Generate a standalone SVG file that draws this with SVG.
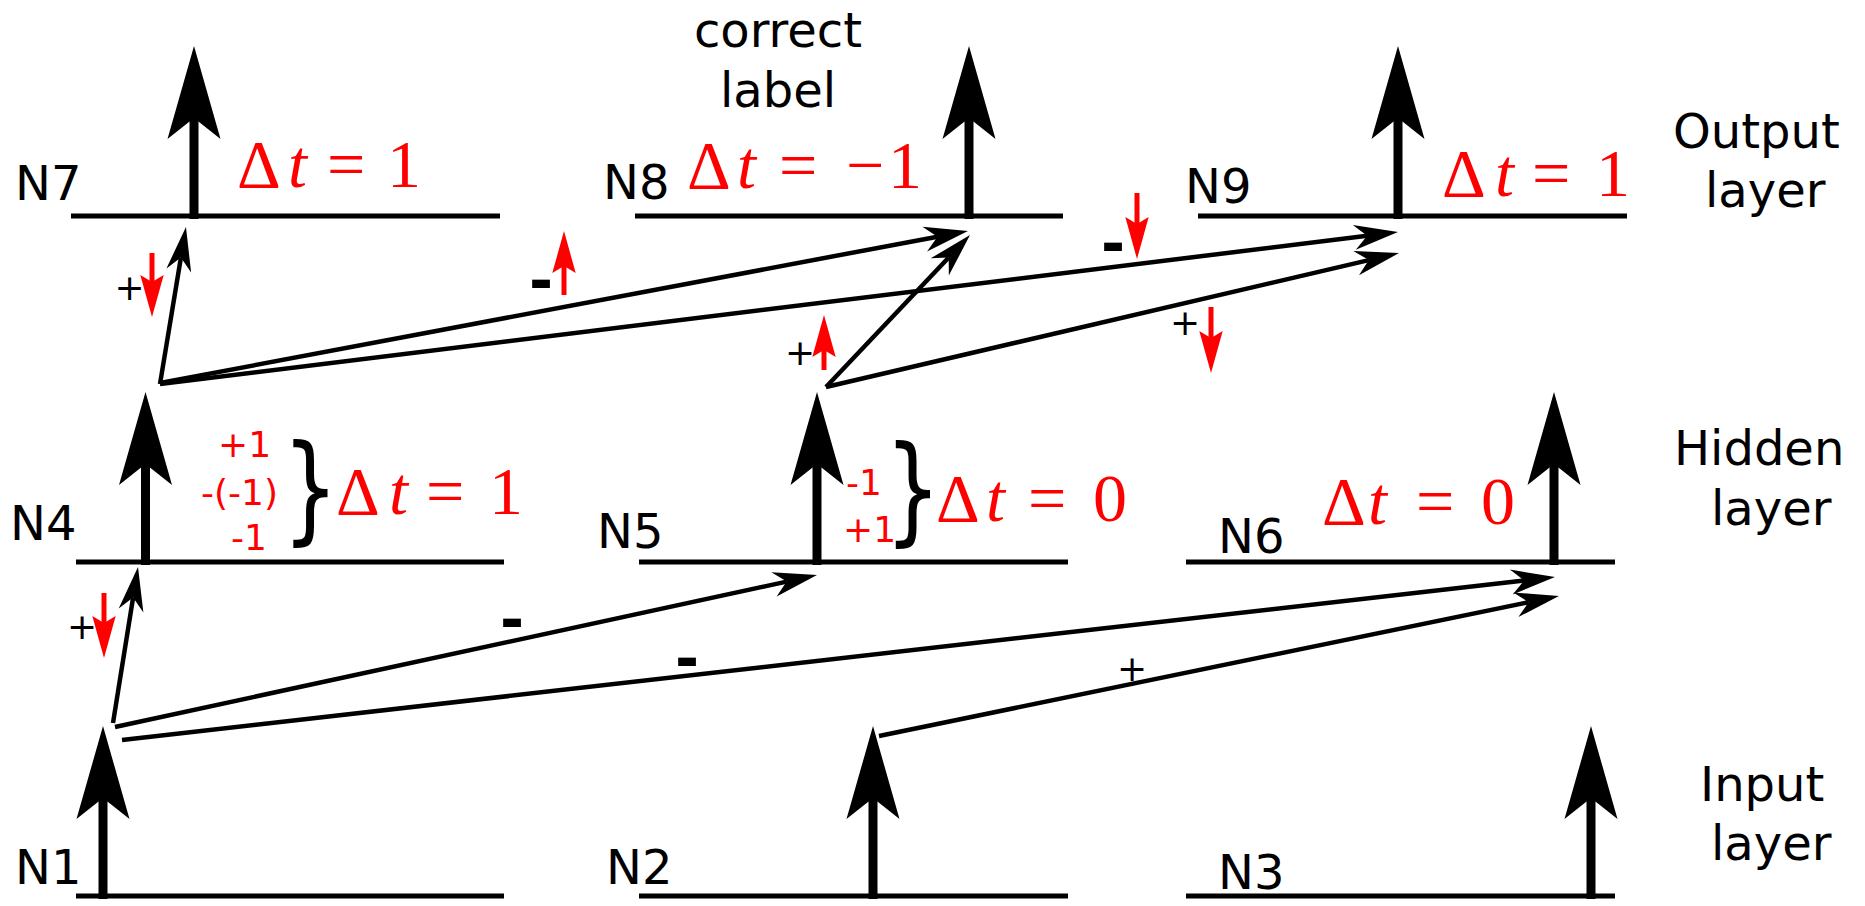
<svg xmlns="http://www.w3.org/2000/svg" width="1865" height="906" viewBox="0 0 1865 906">
<style>
.base{stroke:#000;stroke-width:5;fill:none}
.lbl{font-family:"DejaVu Sans",sans-serif;font-size:48px;fill:#000}
.dt{font-family:"Liberation Serif",serif;font-size:68px;fill:#f00}
.it{font-style:italic}
.rt{font-family:"DejaVu Sans",sans-serif;font-size:36px;fill:#f00}
.plus{font-family:"DejaVu Sans",sans-serif;font-size:36px;fill:#000;text-anchor:middle}
.minus{font-family:"DejaVu Sans",sans-serif;font-size:58px;font-weight:bold;fill:#000;text-anchor:middle}
.brace{font-family:"DejaVu Sans",sans-serif;font-size:118px;fill:#000;text-anchor:middle}
.conn{stroke:#000;stroke-width:4.5;fill:none;marker-end:url(#ah)}
.red{stroke:#f00;stroke-width:5;fill:none;marker-end:url(#rh)}
</style>
<defs>
<marker id="ah" markerUnits="userSpaceOnUse" viewBox="-15 -15 50 30" markerWidth="50" markerHeight="30" refX="0" refY="0" orient="auto" overflow="visible"><path d="M31,0 L-13,-12.5 L0,0 L-13,12.5 Z" fill="#000"/></marker>
<marker id="rh" markerUnits="userSpaceOnUse" viewBox="-10 -15 50 30" markerWidth="50" markerHeight="30" refX="0" refY="0" orient="auto" overflow="visible"><path d="M35,0 L-7,-11.7 L0,0 L-7,11.7 Z" fill="#f00"/></marker>
<g id="spike"><line x1="0" y1="3" x2="0" y2="-100" stroke="#000" stroke-width="9"/><path d="M0,-170 L26.5,-77 L0,-98 L-26.5,-77 Z" fill="#000"/></g>
</defs>
<rect width="1865" height="906" fill="#fff"/>

<g id="N7">
<line class="base" x1="71" y1="216" x2="500" y2="216"/>
<use href="#spike" x="194" y="216"/>
<text class="lbl" x="15" y="200">N7</text>
<text class="dt" y="187"><tspan x="237">Δ</tspan><tspan class="it" x="288">t</tspan><tspan x="327">=</tspan><tspan x="387">1</tspan></text>
</g>
<g id="N8">
<line class="base" x1="635" y1="216" x2="1063" y2="216"/>
<use href="#spike" x="969" y="216"/>
<text class="lbl" x="603" y="199">N8</text>
<text class="dt" y="188"><tspan x="687">Δ</tspan><tspan class="it" x="737">t</tspan><tspan x="779">=</tspan><tspan x="846">−</tspan><tspan x="888">1</tspan></text>
<text class="lbl" text-anchor="middle" x="778" y="47">correct</text>
<text class="lbl" text-anchor="middle" x="778" y="107">label</text>
</g>
<g id="N9">
<line class="base" x1="1198" y1="216" x2="1627" y2="216"/>
<use href="#spike" x="1398" y="216"/>
<text class="lbl" x="1185" y="203">N9</text>
<text class="dt" y="196"><tspan x="1442">Δ</tspan><tspan class="it" x="1495">t</tspan><tspan x="1532">=</tspan><tspan x="1596">1</tspan></text>
</g>

<g id="N4">
<line class="base" x1="76" y1="562" x2="504" y2="562"/>
<use href="#spike" x="145.5" y="562"/>
<text class="lbl" x="10" y="540">N4</text>
<text class="rt" x="218" y="457">+1</text>
<text class="rt" x="201" y="505">-(-1)</text>
<text class="rt" x="231" y="550">-1</text>
<text class="brace" transform="translate(310.5,529) scale(0.75,1)" x="0" y="0">}</text>
<text class="dt" y="514"><tspan x="336">Δ</tspan><tspan class="it" x="389">t</tspan><tspan x="426">=</tspan><tspan x="489">1</tspan></text>
</g>
<g id="N5">
<line class="base" x1="639" y1="562" x2="1068" y2="562"/>
<use href="#spike" x="817" y="562"/>
<text class="lbl" x="597" y="548">N5</text>
<text class="rt" x="846" y="495">-1</text>
<text class="rt" x="843" y="542">+1</text>
<text class="brace" transform="translate(913,530) scale(0.75,1)" x="0" y="0">}</text>
<text class="dt" y="521"><tspan x="936">Δ</tspan><tspan class="it" x="986">t</tspan><tspan x="1028">=</tspan><tspan x="1093">0</tspan></text>
</g>
<g id="N6">
<line class="base" x1="1186" y1="562" x2="1615" y2="562"/>
<use href="#spike" x="1554" y="562"/>
<text class="lbl" x="1218" y="553">N6</text>
<text class="dt" y="524"><tspan x="1322">Δ</tspan><tspan class="it" x="1368">t</tspan><tspan x="1416">=</tspan><tspan x="1481">0</tspan></text>
</g>

<g id="N1">
<line class="base" x1="76" y1="896" x2="504" y2="896"/>
<use href="#spike" x="103" y="896"/>
<text class="lbl" x="15" y="884">N1</text>
</g>
<g id="N2">
<line class="base" x1="639" y1="896" x2="1068" y2="896"/>
<use href="#spike" x="873" y="896"/>
<text class="lbl" x="606" y="884">N2</text>
</g>
<g id="N3">
<line class="base" x1="1186" y1="896" x2="1615" y2="896"/>
<use href="#spike" x="1591" y="896"/>
<text class="lbl" x="1218" y="889">N3</text>
</g>

<g id="layers">
<text class="lbl" x="1673" y="148">Output</text>
<text class="lbl" x="1705" y="207">layer</text>
<text class="lbl" x="1674" y="465">Hidden</text>
<text class="lbl" x="1711" y="525">layer</text>
<text class="lbl" x="1700" y="801">Input</text>
<text class="lbl" x="1711" y="860">layer</text>
</g>

<g id="connectors">
<path class="conn" d="M160,384 L180.9,257.6"/>
<path class="conn" d="M160,383 L937.5,236.7"/>
<path class="conn" d="M160,384 L1367.2,235.8"/>
<path class="conn" d="M826,387 L948.7,257.5"/>
<path class="conn" d="M826,387 L1368.8,260.1"/>
<path class="conn" d="M113,723 L133.1,597.6"/>
<path class="conn" d="M115,727 L786.7,581.6"/>
<path class="conn" d="M122,740 L1524.2,580.5"/>
<path class="conn" d="M879,736 L1528.6,602.2"/>
</g>

<g id="signs">
<text class="plus" x="129.5" y="300">+</text>
<text class="plus" x="800" y="365">+</text>
<text class="plus" x="1185" y="335">+</text>
<text class="plus" x="82" y="639">+</text>
<text class="plus" x="1132" y="681">+</text>
<text class="minus" x="541" y="301">-</text>
<text class="minus" x="1113" y="264">-</text>
<text class="minus" x="512" y="640">-</text>
<text class="minus" x="687" y="679">-</text>
<path class="red" d="M152,253 L152,282"/>
<path class="red" d="M564,295 L564,266"/>
<path class="red" d="M1137,193 L1137,224"/>
<path class="red" d="M824,370 L824,350"/>
<path class="red" d="M1211,307 L1211,338"/>
<path class="red" d="M104,593 L104,623"/>
</g>
</svg>
